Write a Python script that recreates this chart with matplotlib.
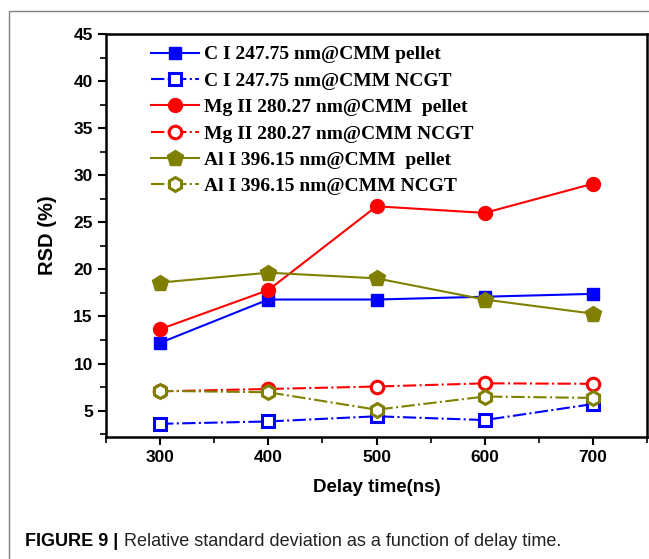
import numpy as np
import matplotlib.pyplot as plt
from matplotlib.patches import Rectangle
from matplotlib.ticker import MultipleLocator

# Данные
delay = [300, 400, 500, 600, 700]
c_pellet = [12.2, 16.8, 16.8, 17.1, 17.4]
c_ncgt = [3.6, 3.85, 4.4, 4.0, 5.7]
mg_pellet = [13.65, 17.8, 26.7, 26.0, 29.1]
mg_ncgt = [7.05, 7.3, 7.56, 7.9, 7.85]
al_pellet = [18.6, 19.65, 19.05, 16.8, 15.3]
al_ncgt = [7.1, 6.95, 5.1, 6.5, 6.35]

labels = ['C I 247.75 nm@CMM pellet', 'C I 247.75 nm@CMM NCGT',
          'Mg II 280.27 nm@CMM  pellet', 'Mg II 280.27 nm@CMM NCGT',
          'Al I 396.15 nm@CMM  pellet', 'Al I 396.15 nm@CMM NCGT']

blue, red, olive = '#0000FF', '#FF0000', '#808000'

fig = plt.figure(figsize=(6.49, 5.59), dpi=100)
fig.patches.append(Rectangle((9/649, -0.1), 2, 548/559 + 0.1, transform=fig.transFigure,
                             fill=False, edgecolor='#808080', linewidth=1))
ax = fig.add_axes([106/649, 122/559, 541/649, 403/559])

lw = 1.5
ax.plot(delay, c_pellet, '-', color=blue, lw=lw, marker='s', ms=9, label=labels[0])
ax.plot(delay, c_ncgt, '-.', color=blue, lw=lw, marker='s', ms=8, mfc='white', mew=2.2, label=labels[1])
ax.plot(delay, mg_pellet, '-', color=red, lw=lw, marker='o', ms=10, label=labels[2])
ax.plot(delay, mg_ncgt, '-.', color=red, lw=lw, marker='o', ms=9, mfc='white', mew=2.2, label=labels[3])
ax.plot(delay, al_pellet, '-', color=olive, lw=lw, marker='p', ms=12, label=labels[4])
ax.plot(delay, al_ncgt, '-.', color=olive, lw=lw, marker='h', ms=10, mfc='white', mew=2.2, label=labels[5])

ax.set_xlim(250, 750)
ax.set_ylim(2.2, 45)
ax.set_xticks([300, 400, 500, 600, 700])
ax.xaxis.set_minor_locator(MultipleLocator(50))
ax.set_yticks(np.arange(5, 46, 5))
ax.yaxis.set_minor_locator(MultipleLocator(2.5))
ax.tick_params(which='major', direction='out', length=6, width=1.5, labelsize=12.5)
ax.tick_params(which='minor', direction='out', length=4, width=1.2)
for t in ax.get_xticklabels() + ax.get_yticklabels():
    t.set_fontweight('bold')
    t.set_family('Liberation Sans')
for s in ax.spines.values():
    s.set_linewidth(1.8)

ax.set_xlabel('Delay time(ns)', fontsize=13.5, fontweight='bold', family='Liberation Sans', labelpad=10)
ax.set_ylabel('RSD (%)', fontsize=14.5, fontweight='bold', family='Liberation Sans', labelpad=12)

ax.legend(loc='upper left', bbox_to_anchor=(0.05, 1.014), frameon=False, handlelength=2.5,
          labelspacing=0.45, handletextpad=0.25,
          prop={'family': 'Liberation Serif', 'weight': 'bold', 'size': 14})

fig.text(25/649, 1 - 541/559, 'FIGURE 9 |', fontsize=13, fontweight='bold',
         family='Liberation Sans', va='center')
fig.text(124/649, 1 - 541/559, 'Relative standard deviation as a function of delay time.',
         fontsize=13, family='Liberation Sans', va='center', color='#222222')

plt.savefig('out.png', dpi=100)
